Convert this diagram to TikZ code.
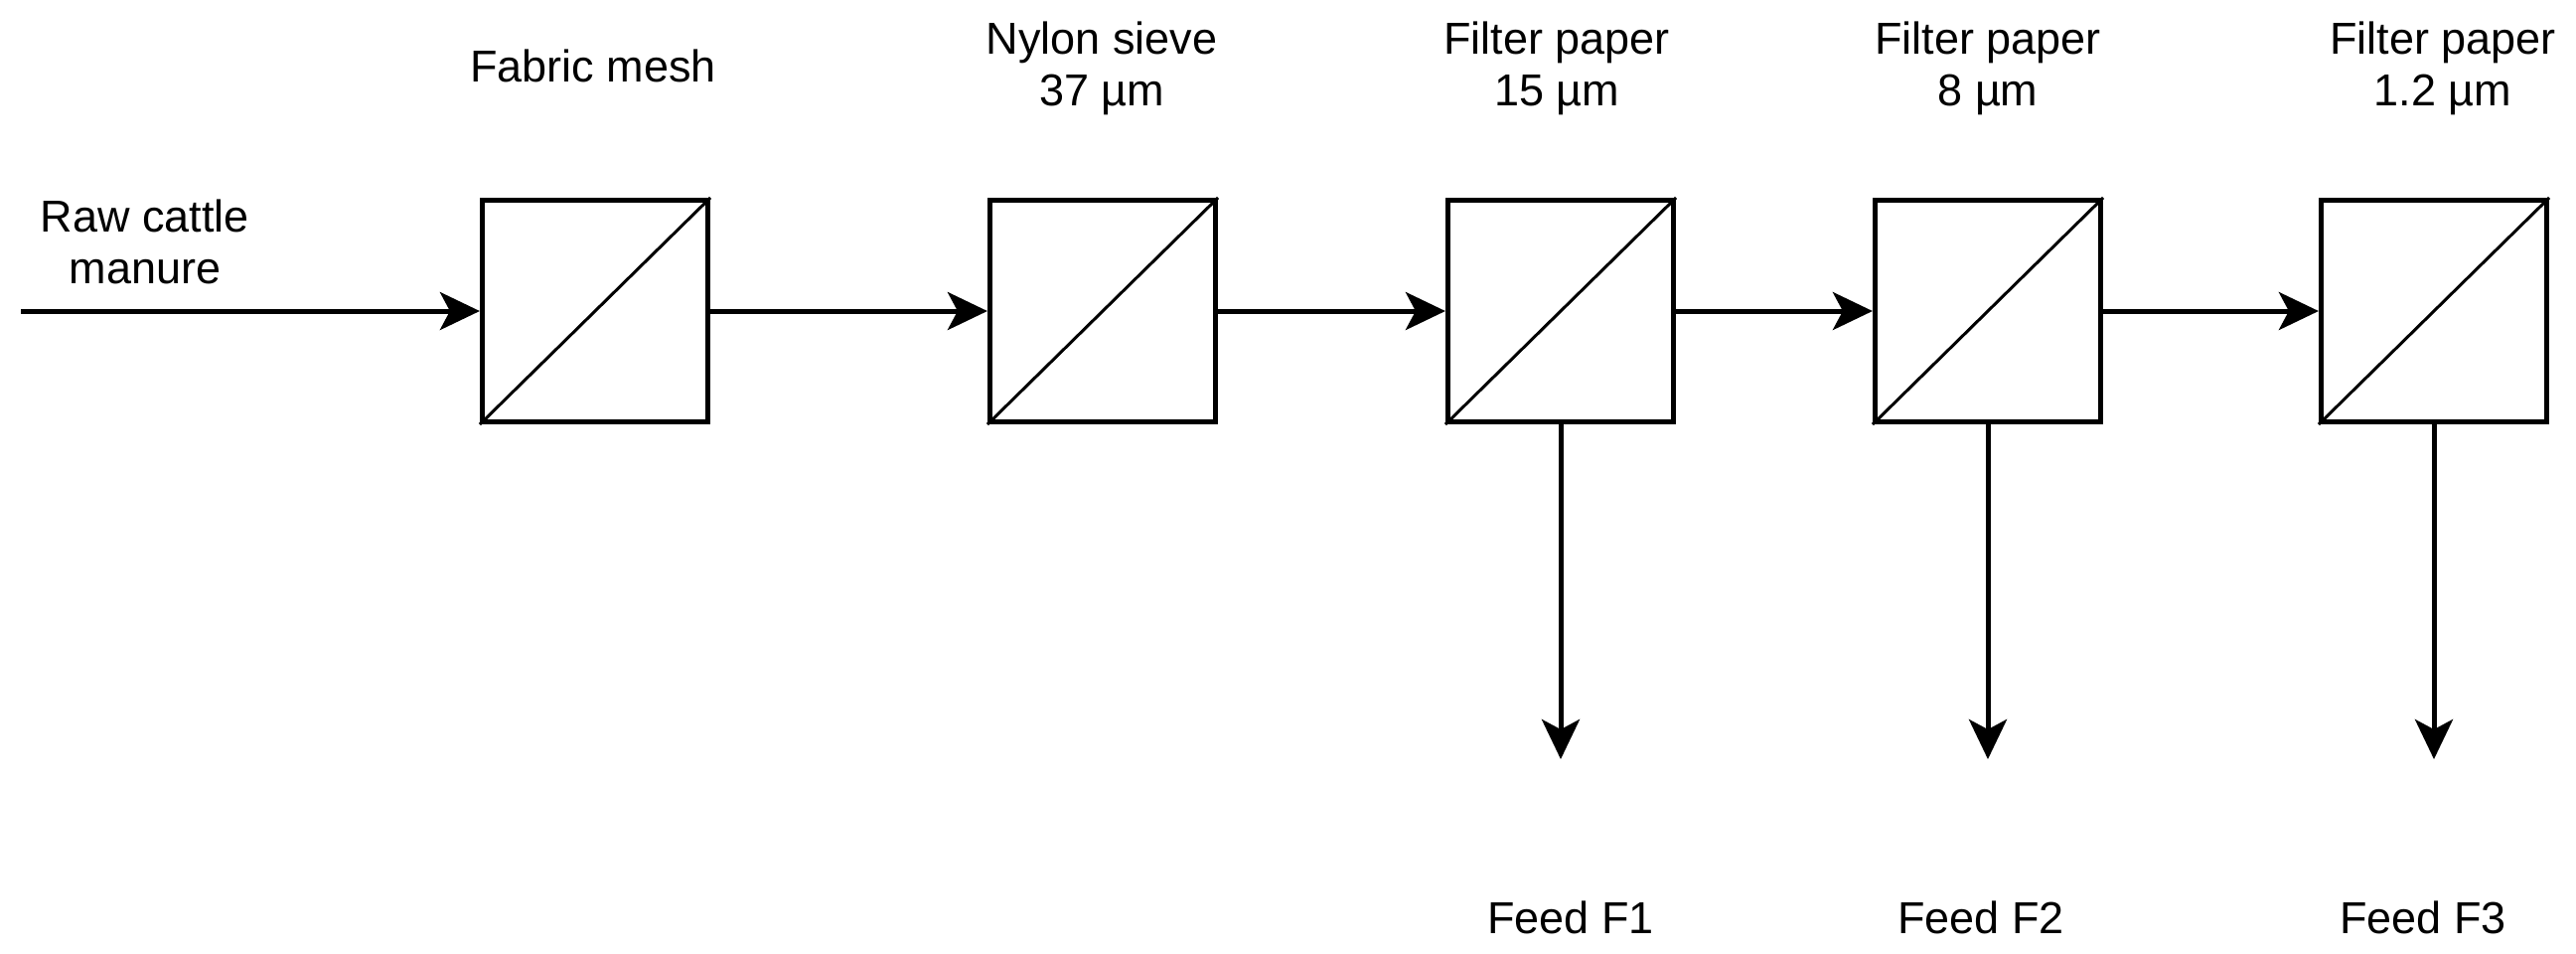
\documentclass[tikz,border=0pt]{standalone}
\usepackage{fontspec}
\setmainfont{Liberation Sans}
\usetikzlibrary{arrows.meta}
\begin{document}
\begin{tikzpicture}[x=0.01cm,y=-0.01cm,
  filt/.style={draw, line width=1.42pt, minimum width=2.27cm, minimum height=2.23cm, inner sep=0pt},
  flow/.style={line width=1.42pt, -{Stealth[length=0.4cm,width=0.38cm,inset=0.1cm]}},
  lbl/.style={font=\fontsize{12.8}{14.9}\selectfont, inner sep=0pt, align=center},
  diag/.style={line width=0.85pt}]
\useasboundingbox (0,0) rectangle (2593,959);
% filters
\node[filt] (b1) at (599,313) {};
\node[filt] (b2) at (1110,313) {};
\node[filt] (b3) at (1571,313) {};
\node[filt] (b4) at (2001,313) {};
\node[filt] (b5) at (2450,313) {};
\foreach \b in {b1,b2,b3,b4,b5}{\draw[diag] (\b.south west) -- (\b.north east);}
% labels
\node[lbl, anchor=north] (lraw) at (146,200) {Raw cattle\\manure};
\node[lbl, anchor=base] (l1) at (597,82) {Fabric mesh};
\node[lbl, anchor=north] (l2) at (1109,21) {Nylon sieve\\37 µm};
\node[lbl, anchor=north] (l3) at (1567,21) {Filter paper\\15 µm};
\node[lbl, anchor=north] (l4) at (2001,21) {Filter paper\\8 µm};
\node[lbl, anchor=north] (l5) at (2459,21) {Filter paper\\1.2 µm};
\node[lbl, anchor=base] (f1) at (1581,939) {Feed F1};
\node[lbl, anchor=base] (f2) at (1994,939) {Feed F2};
\node[lbl, anchor=base] (f3) at (2439,939) {Feed F3};
% connectors
\coordinate (in) at (21,313);
\coordinate (o3) at (1571,764);
\coordinate (o4) at (2001,764);
\coordinate (o5) at (2450,764);
\draw[flow] (in) -- (b1.west);
\draw[flow] (b1.east) -- (b2.west);
\draw[flow] (b2.east) -- (b3.west);
\draw[flow] (b3.east) -- (b4.west);
\draw[flow] (b4.east) -- (b5.west);
\draw[flow] (b3.south) -- (o3);
\draw[flow] (b4.south) -- (o4);
\draw[flow] (b5.south) -- (o5);
\end{tikzpicture}
\end{document}
